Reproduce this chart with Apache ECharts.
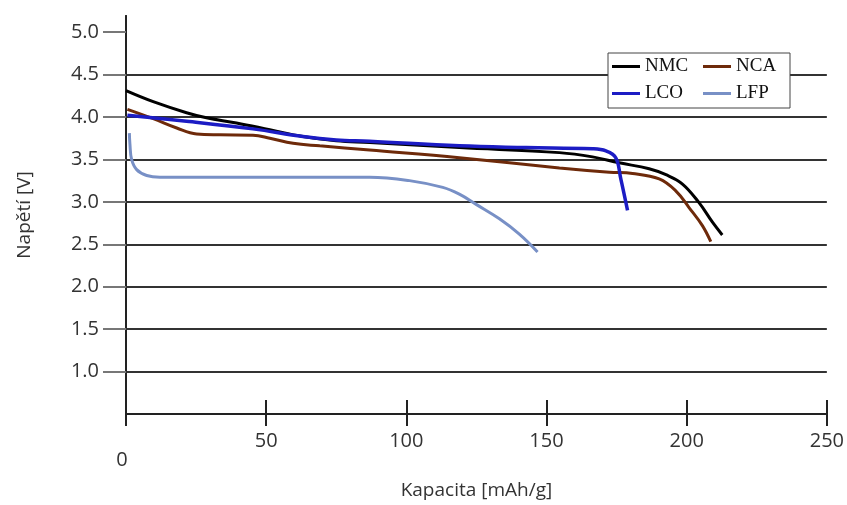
<!DOCTYPE html>
<html>
<head>
<meta charset="utf-8">
<script src="https://cdn.jsdelivr.net/npm/echarts@6/dist/echarts.min.js"></script>
<style>
    html, body { margin: 0; padding: 0; background: #fff; }
    #chart { width: 847px; height: 505px; }
</style>
</head>
<body>
<div id="chart"></div>
<script>
// data: [kapacita mAh/g, napětí V]
var seriesNames = ['NMC', 'NCA', 'LCO', 'LFP'];
var nmc = [[0, 4.31], [9.7, 4.18], [21.6, 4.05], [28.7, 3.99], [39.4, 3.93], [51.3, 3.85], [63.1, 3.77],
    [75, 3.72], [86.9, 3.70], [118.9, 3.64], [154.6, 3.58], [166.4, 3.53], [175.9, 3.46], [186.6, 3.39],
    [192.6, 3.32], [198.5, 3.21], [204.4, 2.99], [209.2, 2.76], [212.7, 2.61]];
var nca = [[0.5, 4.09], [9.7, 3.98], [18.1, 3.87], [25.2, 3.80], [33.5, 3.79], [45.3, 3.785], [51.3, 3.75],
    [59.6, 3.69], [69.1, 3.66], [86.9, 3.61], [118.9, 3.52], [154.6, 3.40], [172.4, 3.35], [180.7, 3.335],
    [190.2, 3.27], [196.1, 3.13], [200.9, 2.93], [205.6, 2.72], [208.6, 2.53]];
var lco = [[0.5, 4.02], [21.6, 3.95], [45.3, 3.86], [63.1, 3.77], [75, 3.73], [86.9, 3.715], [118.9, 3.66],
    [142.7, 3.64], [166.4, 3.625], [171.2, 3.60], [174.7, 3.52], [176.5, 3.27], [178.9, 2.90]];
var lfp = [[1.2, 3.81], [1.4, 3.68], [2.0, 3.5], [3.8, 3.38], [7.4, 3.31], [12.1, 3.29], [86.9, 3.29],
    [101.1, 3.25], [113.0, 3.17], [118.9, 3.09], [124.9, 2.97], [133.2, 2.80], [140.3, 2.62], [146.8, 2.41]];
var yTicks = [1.0, 1.5, 2.0, 2.5, 3.0, 3.5, 4.0, 4.5, 5.0];
var gridValues = [1.0, 1.5, 2.0, 2.5, 3.0, 3.5, 4.0, 4.5];
var colors = ['#000000', '#6e2a0a', '#1c1cc4', '#7890c6'];

var labelFont = '"Open Sans", "Noto Sans", sans-serif';
var myChart = echarts.init(document.getElementById('chart'));

function line(name, data, color, width) {
    return {
        name: name,
        type: 'line',
        data: data,
        xAxisIndex: 0,
        yAxisIndex: 0,
        z: 3,
        smooth: 0.4,
        showSymbol: false,
        lineStyle: { color: color, width: width },
        itemStyle: { color: color }
    };
}

// vodorovne cary mrizky
var gridSeries = {
    name: 'grid',
    type: 'line',
    data: [],
    xAxisIndex: 0,
    yAxisIndex: 0,
    z: 1,
    silent: true,
    markLine: {
        z: 1,
        silent: true,
        symbol: 'none',
        animation: false,
        label: { show: false },
        lineStyle: { color: '#333', width: 2, type: 'solid' },
        data: gridValues.map(function (v) { return { yAxis: v }; })
    }
};

var option = {
    animation: false,
    backgroundColor: '#fff',
    grid: { left: 126, right: 19, top: 16, bottom: 89 },
    legend: {
        data: seriesNames,
        left: 608,
        top: 53,
        width: 176,
        orient: 'horizontal',
        icon: 'rect',
        itemWidth: 28,
        itemHeight: 3,
        itemGap: 8,
        padding: [4, 4, 5, 4],
        backgroundColor: '#fff',
        borderColor: '#444',
        borderWidth: 1,
        z: 10,
        textStyle: {
            fontFamily: '"Liberation Serif", "DejaVu Serif", serif',
            fontSize: 19,
            color: '#111',
            width: 50,
            lineHeight: 12
        }
    },
    xAxis: [
        {
            type: 'value',
            min: 0,
            max: 250,
            interval: 50,
            position: 'bottom',
            name: 'Kapacita [mAh/g]',
            nameLocation: 'middle',
            nameGap: 67,
            nameTextStyle: { fontFamily: labelFont, fontSize: 19, color: '#333' },
            axisLine: { show: true, lineStyle: { color: '#222', width: 2 } },
            axisTick: { show: true, inside: false, length: 12, lineStyle: { color: '#222', width: 2 } },
            axisLabel: {
                margin: 17,
                fontFamily: labelFont,
                fontSize: 20,
                color: '#333',
                formatter: function (v) {
                    return v === 0 ? '{z|0}' : String(v);
                },
                rich: {
                    z: { padding: [19, 8, 0, 0], fontFamily: labelFont, fontSize: 20, color: '#333' }
                }
            },
            splitLine: { show: false }
        },
        {
            type: 'value',
            min: 0,
            max: 250,
            interval: 50,
            position: 'bottom',
            axisLine: { show: false },
            axisTick: { show: true, inside: true, length: 14, lineStyle: { color: '#222', width: 2 } },
            axisLabel: { show: false },
            splitLine: { show: false }
        }
    ],
    yAxis: [
        {
            type: 'value',
            min: 0.5,
            max: 5.19,
            interval: 0.5,
            position: 'left',
            name: 'Napětí [V]',
            nameLocation: 'middle',
            nameGap: 92,
            nameTextStyle: { fontFamily: labelFont, fontSize: 19, color: '#333' },
            axisLine: { show: true, lineStyle: { color: '#222', width: 2 } },
            axisTick: {
                show: true,
                inside: false,
                length: 23,
                customValues: yTicks,
                lineStyle: { color: '#777', width: 2 }
            },
            axisLabel: {
                margin: 27,
                customValues: yTicks,
                fontFamily: labelFont,
                fontSize: 20,
                color: '#333',
                formatter: function (v) {
                    return (v > 0.99 && v < 5.01) ? v.toFixed(1) : '';
                }
            },
            splitLine: { show: false }
        },
        {
            type: 'value',
            min: 0.5,
            max: 5.19,
            interval: 0.5,
            position: 'right',
            axisLine: { show: true, lineStyle: { color: '#222', width: 2 } },
            axisTick: { show: false },
            axisLabel: { show: false },
            splitLine: { show: false }
        }
    ],
    series: [
        gridSeries,
        line(seriesNames[0], nmc, colors[0], 3),
        line(seriesNames[1], nca, colors[1], 3),
        line(seriesNames[2], lco, colors[2], 3.5),
        line(seriesNames[3], lfp, colors[3], 3)
    ]
};
myChart.setOption(option);
</script>
</body>
</html>
